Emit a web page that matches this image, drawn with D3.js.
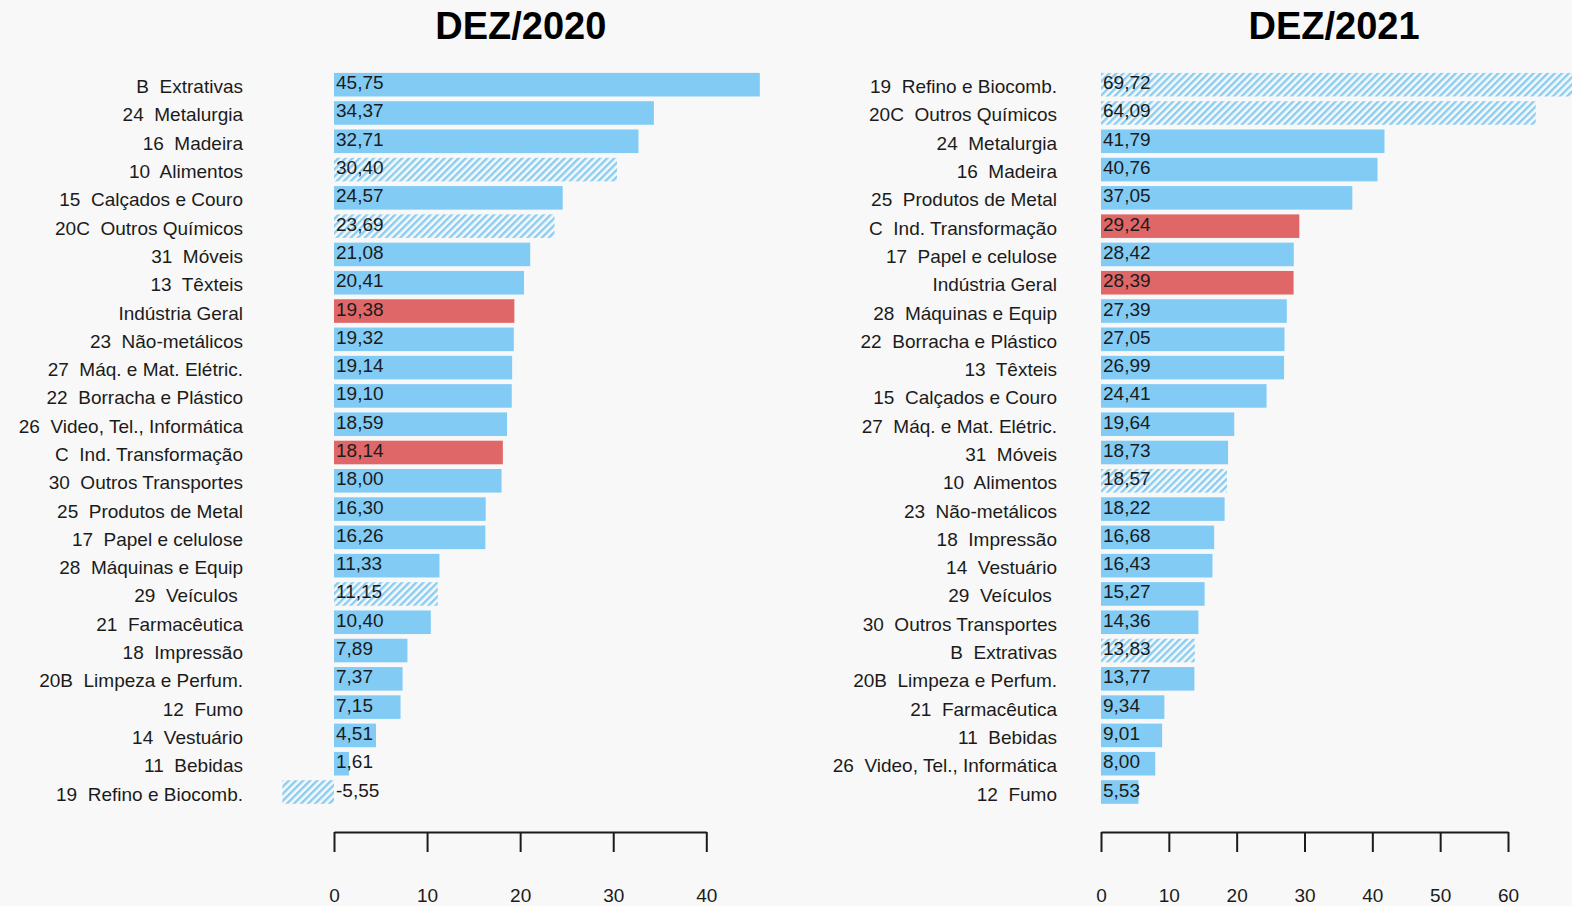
<!DOCTYPE html>
<html>
<head>
<meta charset="utf-8">
<script src="https://cdn.jsdelivr.net/npm/d3@7"></script>
<style>
  html, body { margin: 0; padding: 0; background: #f8f8f8; }
  svg { display: block; font-family: "Liberation Sans", Arial, sans-serif; }
  text { white-space: pre; }
</style>
</head>
<body>
<svg id="chart" width="1572" height="906"></svg>
<script>
// ---- data ----
const title2020 = "DEZ/2020";
const cats2020 = ["B  Extrativas","24  Metalurgia","16  Madeira","10  Alimentos","15  Calçados e Couro",
  "20C  Outros Químicos","31  Móveis","13  Têxteis","Indústria Geral","23  Não-metálicos",
  "27  Máq. e Mat. Elétric.","22  Borracha e Plástico","26  Video, Tel., Informática",
  "C  Ind. Transformação","30  Outros Transportes","25  Produtos de Metal","17  Papel e celulose",
  "28  Máquinas e Equip","29  Veículos ","21  Farmacêutica","18  Impressão","20B  Limpeza e Perfum.",
  "12  Fumo","14  Vestuário","11  Bebidas","19  Refino e Biocomb."];
const vals2020 = [45.75,34.37,32.71,30.40,24.57,23.69,21.08,20.41,19.38,19.32,19.14,19.10,18.59,
  18.14,18.00,16.30,16.26,11.33,11.15,10.40,7.89,7.37,7.15,4.51,1.61,-5.55];
const hatched2020 = ["10  Alimentos","20C  Outros Químicos","29  Veículos ","19  Refino e Biocomb."];
const ticks2020 = [0,10,20,30,40];

const title2021 = "DEZ/2021";
const cats2021 = ["19  Refino e Biocomb.","20C  Outros Químicos","24  Metalurgia","16  Madeira",
  "25  Produtos de Metal","C  Ind. Transformação","17  Papel e celulose","Indústria Geral",
  "28  Máquinas e Equip","22  Borracha e Plástico","13  Têxteis","15  Calçados e Couro",
  "27  Máq. e Mat. Elétric.","31  Móveis","10  Alimentos","23  Não-metálicos","18  Impressão",
  "14  Vestuário","29  Veículos ","30  Outros Transportes","B  Extrativas","20B  Limpeza e Perfum.",
  "21  Farmacêutica","11  Bebidas","26  Video, Tel., Informática","12  Fumo"];
const vals2021 = [69.72,64.09,41.79,40.76,37.05,29.24,28.42,28.39,27.39,27.05,26.99,24.41,19.64,
  18.73,18.57,18.22,16.68,16.43,15.27,14.36,13.83,13.77,9.34,9.01,8.00,5.53];
const hatched2021 = ["19  Refino e Biocomb.","20C  Outros Químicos","10  Alimentos","B  Extrativas"];
const ticks2021 = [0,10,20,30,40,50,60];

const aggregates = ["Indústria Geral","C  Ind. Transformação"];

// ---- drawing ----
const svg = d3.select("#chart");
const BLUE = "#82cbf5", RED = "#e06767", HATCH = "#88cdf2", INK = "#1b1b1b";

const defs = svg.append("defs");
const pat = defs.append("pattern")
  .attr("id", "hatch").attr("patternUnits", "userSpaceOnUse")
  .attr("width", 5).attr("height", 5)
  .attr("patternTransform", "rotate(45)");
pat.append("rect").attr("x", 0).attr("y", 0).attr("width", 2.4).attr("height", 5)
  .attr("fill", HATCH);

const loc = d3.formatLocale({decimal: ",", thousands: ".", grouping: [3], currency: ["", ""], minus: "-"});
const fmt = loc.format(".2f");

const y = d3.scaleBand()
  .domain(d3.range(26))
  .range([70.55, 806.15])
  .paddingInner(1/6).paddingOuter(1/12);

function panel(cfg) {
  const x = d3.scaleLinear().domain(cfg.domain).range(cfg.range);
  const g = svg.append("g");
  const rows = cfg.cats.map((c, i) => ({c, v: cfg.vals[i], i}));

  g.selectAll("rect.bar").data(rows).join("rect")
    .attr("class", "bar")
    .attr("x", d => x(Math.min(0, d.v)))
    .attr("y", d => y(d.i))
    .attr("width", d => Math.abs(x(d.v) - x(0)))
    .attr("height", y.bandwidth())
    .attr("fill", d => aggregates.includes(d.c) ? RED :
                       cfg.hatched.includes(d.c) ? "url(#hatch)" : BLUE);

  g.selectAll("text.val").data(rows).join("text")
    .attr("class", "val")
    .attr("x", x(0) + 2)
    .attr("y", d => y(d.i) + y.bandwidth() / 2 + 4.5)
    .attr("font-size", 19).attr("fill", INK)
    .text(d => fmt(d.v));

  g.selectAll("text.cat").data(rows).join("text")
    .attr("class", "cat")
    .attr("x", cfg.labelX)
    .attr("y", d => y(d.i) + y.bandwidth() / 2 + 8.5)
    .attr("text-anchor", "end")
    .attr("font-size", 19).attr("fill", INK)
    .text(d => d.c);

  const ax = g.append("g").attr("transform", "translate(0,832)")
    .call(d3.axisBottom(x).tickValues(cfg.ticks).tickSize(20).tickSizeOuter(0).tickFormat(d3.format("d")));
  ax.select(".domain").attr("stroke", INK).attr("stroke-width", 2);
  ax.selectAll(".tick line").attr("stroke", INK).attr("stroke-width", 2);
  ax.selectAll(".tick text").attr("y", 70).attr("dy", 0)
    .attr("font-size", 19).attr("fill", INK)
    .attr("font-family", "'Liberation Sans', Arial, sans-serif");

  svg.append("text")
    .attr("x", cfg.titleX).attr("y", 39)
    .attr("text-anchor", "middle")
    .attr("font-size", 38).attr("font-weight", "bold").attr("fill", "#000")
    .text(cfg.title);
}

panel({title: title2020, titleX: 520.8, cats: cats2020, vals: vals2020, hatched: hatched2020,
       ticks: ticks2020, domain: [0, 40], range: [334, 706.3], labelX: 243});
panel({title: title2021, titleX: 1334, cats: cats2021, vals: vals2021, hatched: hatched2021,
       ticks: ticks2021, domain: [0, 60], range: [1101, 1508], labelX: 1057});
</script>
</body>
</html>
